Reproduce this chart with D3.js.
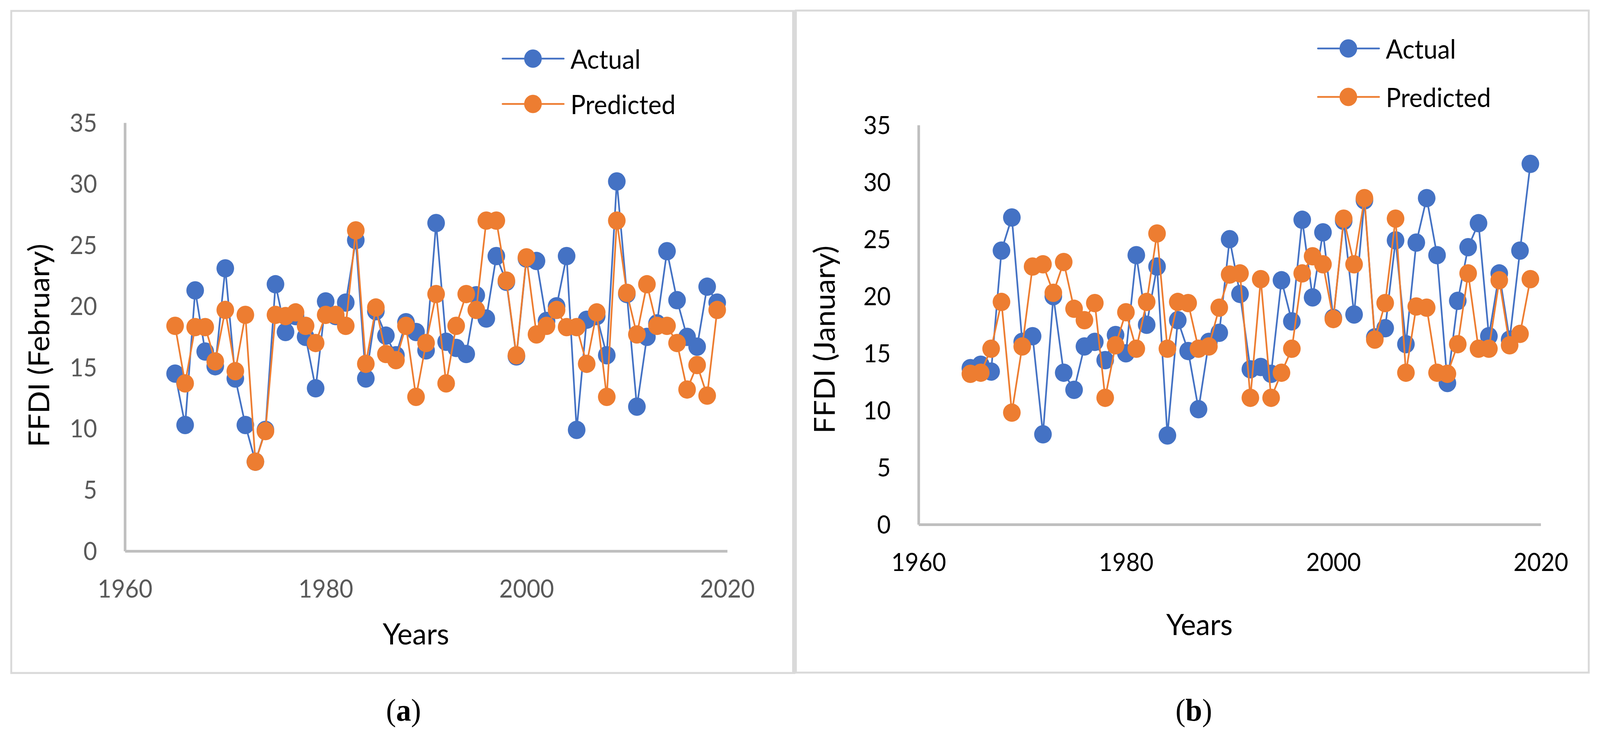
<!DOCTYPE html>
<html>
<head>
<meta charset="utf-8">
<script src="https://cdn.jsdelivr.net/npm/d3@7"></script>
<style>
  html, body { margin: 0; padding: 0; background: #ffffff; overflow: hidden; width: 100%; height: 100%; }
  svg { display: block; width: 100vw; height: 100vh; }
</style>
</head>
<body>
<script>
// ---------- DATA ----------
const years = [1965,1966,1967,1968,1969,1970,1971,1972,1973,1974,
               1975,1976,1977,1978,1979,1980,1981,1982,1983,1984,
               1985,1986,1987,1988,1989,1990,1991,1992,1993,1994,
               1995,1996,1997,1998,1999,2000,2001,2002,2003,2004,
               2005,2006,2007,2008,2009,2010,2011,2012,2013,2014,
               2015,2016,2017,2018,2019];

const febActual = [14.5,10.3,21.3,16.3,15.1,23.1,14.1,10.3,7.3,9.9,
                   21.8,17.9,19.2,17.5,13.3,20.4,19.2,20.3,25.4,14.1,
                   19.6,17.6,16.0,18.7,17.9,16.4,26.8,17.1,16.6,16.1,
                   20.9,19.0,24.1,22.0,15.9,23.9,23.7,18.8,20.0,24.1,
                   9.9,18.9,19.2,16.0,30.2,21.0,11.8,17.5,18.6,24.5,
                   20.5,17.5,16.7,21.6,20.3];

const febPredicted = [18.4,13.7,18.3,18.3,15.5,19.7,14.7,19.3,7.3,9.8,
                      19.3,19.2,19.5,18.4,17.0,19.3,19.3,18.4,26.2,15.3,
                      19.9,16.1,15.6,18.4,12.6,17.0,21.0,13.7,18.4,21.0,
                      19.7,27.0,27.0,22.1,16.0,24.0,17.7,18.4,19.7,18.3,
                      18.3,15.3,19.5,12.6,27.0,21.1,17.7,21.8,18.4,18.4,
                      17.0,13.2,15.2,12.7,19.7];

const janActual = [13.7,14.0,13.4,24.0,26.9,16.0,16.5,7.9,20.0,13.3,
                   11.8,15.6,16.0,14.4,16.6,15.0,23.6,17.5,22.6,7.8,
                   17.9,15.2,10.1,16.0,16.8,25.0,20.2,13.6,13.8,13.2,
                   21.4,17.8,26.7,19.9,25.6,18.1,26.6,18.4,28.4,16.4,
                   17.2,24.9,15.8,24.7,28.6,23.6,12.4,19.6,24.3,26.4,
                   16.5,22.0,16.2,24.0,31.6];

const janPredicted = [13.2,13.3,15.4,19.5,9.8,15.6,22.6,22.8,20.3,23.0,
                      18.9,17.9,19.4,11.1,15.7,18.6,15.4,19.5,25.5,15.4,
                      19.5,19.4,15.4,15.6,19.0,21.9,22.0,11.1,21.5,11.1,
                      13.3,15.4,22.0,23.5,22.8,18.0,26.8,22.8,28.6,16.2,
                      19.4,26.8,13.3,19.1,19.0,13.3,13.2,15.8,22.0,15.4,
                      15.4,21.4,15.7,16.7,21.5];

const yTicks = [0, 5, 10, 15, 20, 25, 30, 35];
const xTicks = [1960, 1980, 2000, 2020];
const seriesNames = ["Actual", "Predicted"];
const seriesColors = ["#4472C4", "#ED7D31"];

// ---------- DRAW ----------
const W = 4266, H = 1873;
const svg = d3.select("body").append("svg")
  .attr("viewBox", `0 0 ${W} ${H}`)
  .attr("preserveAspectRatio", "none");

svg.append("rect").attr("x", 0).attr("y", 0).attr("width", W).attr("height", H).attr("fill", "#fff");

const FONT = "Lato, 'Open Sans', sans-serif";

function drawPanel(cfg) {
  const g = svg.append("g");

  // frame
  g.append("rect")
    .attr("x", cfg.frame[0]).attr("y", cfg.frame[1])
    .attr("width", cfg.frame[2]).attr("height", cfg.frame[3])
    .attr("fill", "none").attr("stroke", "#d9d9d9").attr("stroke-width", 5);

  const x = d3.scaleLinear().domain([1960, 2020]).range([cfg.x0, cfg.x1]);
  const y = d3.scaleLinear().domain([0, 35]).range([cfg.yBottom, cfg.yTop]);

  // y axis
  const yAxis = d3.axisLeft(y).tickValues(yTicks).tickSize(0).tickPadding(74);
  const ya = g.append("g").attr("transform", `translate(${cfg.x0},0)`).call(yAxis);
  ya.select(".domain").attr("stroke", "#BFBFBF").attr("stroke-width", 7);
  ya.selectAll("text")
    .attr("font-family", FONT).attr("font-size", 63)
    .attr("fill", cfg.tickColor).attr("dy", "0.35em");

  // x axis
  const xAxis = d3.axisBottom(x).tickValues(xTicks).tickFormat(d3.format("d")).tickSize(0).tickPadding(cfg.xTickPad);
  const xa = g.append("g").attr("transform", `translate(0,${cfg.yBottom})`).call(xAxis);
  xa.select(".domain").attr("stroke", "#BFBFBF").attr("stroke-width", 7);
  xa.selectAll("text")
    .attr("font-family", FONT).attr("font-size", 63)
    .attr("fill", cfg.tickColor).attr("dy", "0.71em");

  // axis titles
  g.append("text")
    .attr("x", cfg.xTitle[0]).attr("y", cfg.xTitle[1])
    .attr("text-anchor", "middle").attr("dominant-baseline", "central")
    .attr("font-family", FONT).attr("font-size", 76).attr("fill", "#000")
    .text("Years");
  g.append("text")
    .attr("transform", `translate(${cfg.yTitle[0]},${cfg.yTitle[1]}) rotate(-90)`)
    .attr("text-anchor", "middle").attr("dominant-baseline", "central")
    .attr("font-family", FONT).attr("font-size", 76).attr("fill", "#000")
    .text(cfg.yLabel);

  // series
  const line = d3.line().x((d, i) => x(years[i])).y(d => y(d));
  cfg.series.forEach((vals, si) => {
    const sg = g.append("g");
    sg.append("path").datum(vals)
      .attr("d", line).attr("fill", "none")
      .attr("stroke", seriesColors[si]).attr("stroke-width", 4.5)
      .attr("stroke-linejoin", "round");
    sg.selectAll("circle").data(vals).join("circle")
      .attr("cx", (d, i) => x(years[i])).attr("cy", d => y(d))
      .attr("r", 23.5).attr("fill", seriesColors[si]);
  });

  // legend
  seriesNames.forEach((name, si) => {
    const ly = cfg.legend.y[si];
    const lg = g.append("g");
    lg.append("line")
      .attr("x1", cfg.legend.x0).attr("x2", cfg.legend.x0 + 163)
      .attr("y1", ly).attr("y2", ly)
      .attr("stroke", seriesColors[si]).attr("stroke-width", 4.5).attr("stroke-linecap", "round");
    lg.append("circle")
      .attr("cx", cfg.legend.x0 + 81).attr("cy", ly).attr("r", 23.5)
      .attr("fill", seriesColors[si]);
    lg.append("text")
      .attr("x", cfg.legend.x0 + 181).attr("y", ly)
      .attr("dominant-baseline", "central")
      .attr("font-family", FONT).attr("font-size", 67).attr("fill", "#000")
      .text(name);
  });

  // panel tag
  const tag = g.append("text")
    .attr("x", cfg.tag[0]).attr("y", cfg.tag[1])
    .attr("text-anchor", "middle").attr("dominant-baseline", "central")
    .attr("font-family", "'Liberation Serif', 'Times New Roman', serif")
    .attr("font-size", 80).attr("fill", "#000");
  tag.append("tspan").text("(");
  tag.append("tspan").attr("font-weight", "bold").text(cfg.tagLetter);
  tag.append("tspan").text(")");
}

drawPanel({
  frame: [30, 28, 2088, 1694],
  x0: 333, x1: 1939, yTop: 314, yBottom: 1410,
  tickColor: "#595959",
  xTickPad: 74,
  xTitle: [1109, 1619],
  yTitle: [102, 884],
  yLabel: "FFDI (February)",
  series: [febActual, febPredicted],
  legend: { x0: 1340, y: [150, 266] },
  tag: [1076, 1816], tagLetter: "a"
});

drawPanel({
  frame: [2122, 27, 2114, 1694],
  x0: 2449, x1: 4108, yTop: 320, yBottom: 1342,
  tickColor: "#000000",
  xTickPad: 74,
  xTitle: [3198, 1595],
  yTitle: [2196, 869],
  yLabel: "FFDI (January)",
  series: [janActual, janPredicted],
  legend: { x0: 3514, y: [124, 248] },
  tag: [3183, 1816], tagLetter: "b"
});

// thick separator bar between the two frames
svg.append("rect").attr("x", 2112).attr("y", 26).attr("width", 12).attr("height", 1697).attr("fill", "#d9d9d9");
</script>
</body>
</html>
